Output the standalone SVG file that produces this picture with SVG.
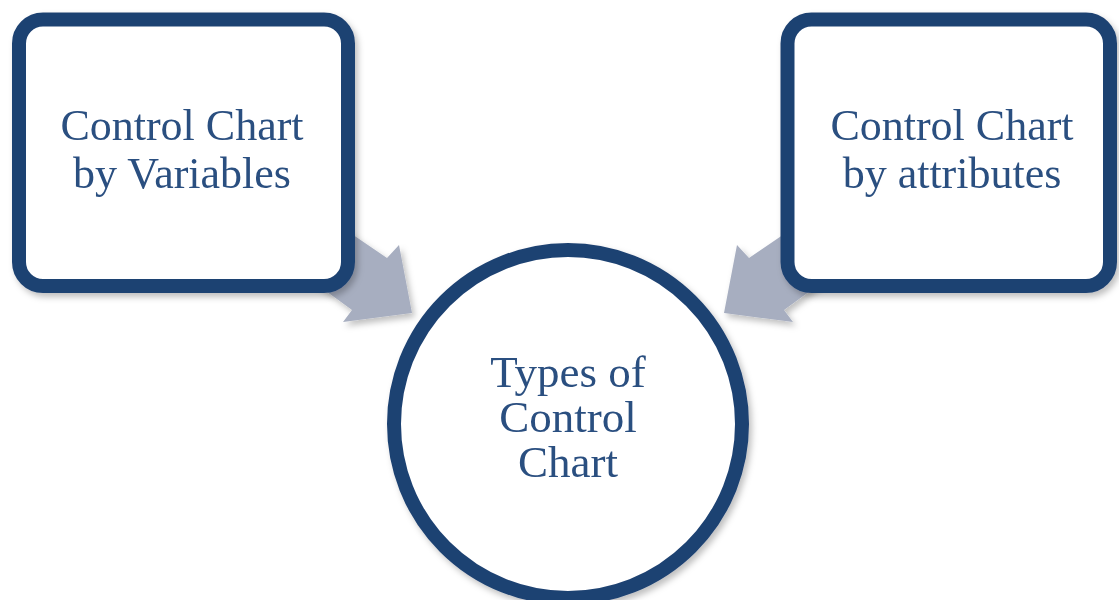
<svg xmlns="http://www.w3.org/2000/svg" width="1119" height="600" viewBox="0 0 1119 600">
  <defs>
    <filter id="shadow" x="-10%" y="-10%" width="125%" height="125%">
      <feDropShadow dx="3" dy="4" stdDeviation="3" flood-color="#000000" flood-opacity="0.25"/>
    </filter>
    <style>
      .box { fill: #ffffff; stroke: #1f4272; stroke-width: 14; }
      .arrow { fill: #a7aec0; }
      .label { font-family: "Liberation Serif", "Times New Roman", serif; font-size: 44px; fill: #2b4f80; text-anchor: middle; }
      .round { font-size: 45px; }
    </style>
  </defs>
  <rect width="1119" height="600" fill="#ffffff"/>

  <!-- block arrows pointing into the centre circle -->
  <g id="connectors" filter="url(#shadow)">
    <path class="arrow" d="M 340 226 L 387 258 L 399 245 L 412 313 L 343 322 L 352 310 L 304 275 Z"/>
    <path class="arrow" d="M 796 226 L 749 258 L 737 245 L 724 313 L 793 322 L 784 310 L 832 275 Z"/>
  </g>

  <g id="node-variables" filter="url(#shadow)">
    <rect class="box" x="19" y="19.5" width="329" height="266.5" rx="24"/>
    <text class="label" x="182" y="140">Control Chart</text>
    <text class="label" x="182" y="188">by Variables</text>
  </g>

  <g id="node-attributes" filter="url(#shadow)">
    <rect class="box" x="787.5" y="19.5" width="322.5" height="266.5" rx="24"/>
    <text class="label" x="952" y="140">Control Chart</text>
    <text class="label" x="952" y="188">by attributes</text>
  </g>

  <g id="node-types" filter="url(#shadow)">
    <circle class="box" cx="568" cy="424" r="174"/>
    <text class="label round" x="568" y="387">Types of</text>
    <text class="label round" x="568" y="432">Control</text>
    <text class="label round" x="568" y="477">Chart</text>
  </g>
</svg>
